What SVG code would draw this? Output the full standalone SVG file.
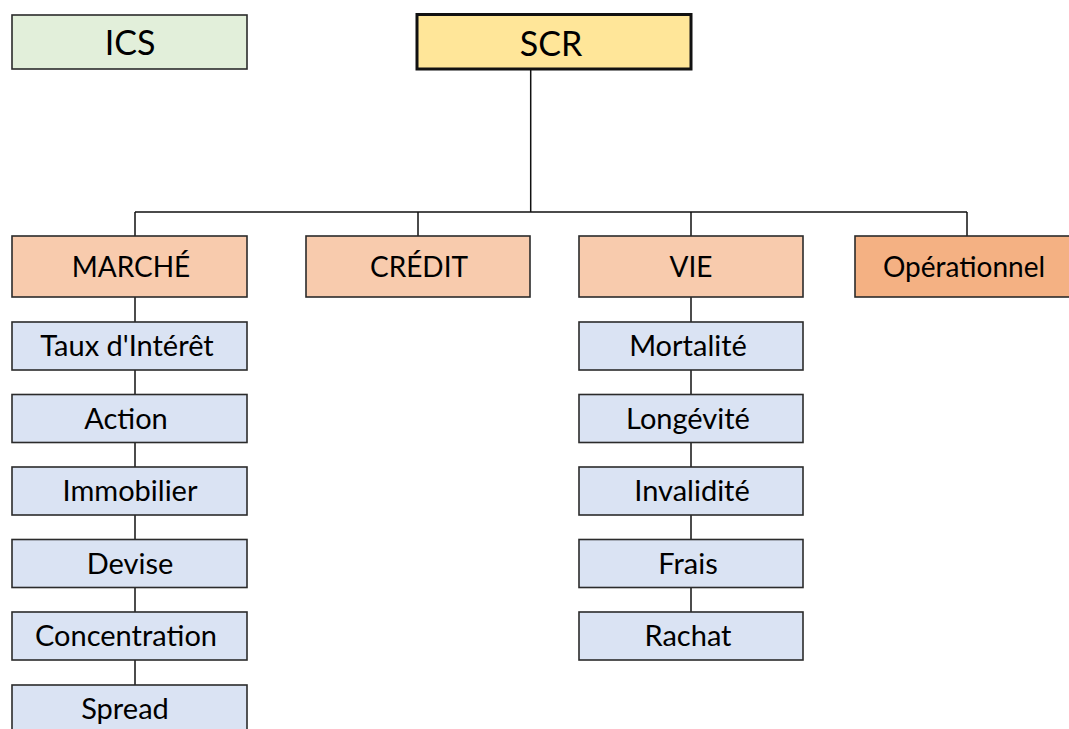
<svg xmlns="http://www.w3.org/2000/svg" width="1069" height="729" viewBox="0 0 1069 729">
  <style>
    .box { stroke: #2b2b2b; stroke-width: 1.6; }
    .root { fill: #ffe699; stroke: #111; stroke-width: 3; }
    .ics { fill: #e2efda; }
    .cat { fill: #f8cbad; }
    .op { fill: #f4b183; }
    .sub { fill: #dae3f3; }
    .wire { stroke: #111; stroke-width: 1.5; fill: none; }
    text { font-family: Lato, "Open Sans", "Liberation Sans", sans-serif; fill: #000; text-anchor: middle; }
    .t1 { font-size: 34px; }
    .t2 { font-size: 28px; }
    .t3 { font-size: 29px; }
  </style>
  <rect width="1069" height="729" fill="#ffffff"/>

  <!-- connectors -->
  <g id="connectors">
    <path class="wire" d="M530.7 69 V212 M135 212 H967 M135 212 V236 M418 212 V236 M691 212 V236 M967 212 V236"/>
    <path class="wire" d="M135 297 V686"/>
    <path class="wire" d="M691 297 V613"/>
  </g>

  <g id="ics">
    <rect class="box ics" x="12" y="15" width="235" height="54"/>
    <text class="t1" x="130" y="55">ICS</text>
  </g>
  <g id="scr">
    <rect class="root" x="417" y="14.5" width="274" height="54.5"/>
    <text class="t1" x="551" y="56">SCR</text>
  </g>

  <g id="marche">
    <rect class="box cat" x="12" y="236" width="235" height="61"/>
    <text class="t2" x="131" y="277">MARCHÉ</text>
  </g>
  <g id="credit">
    <rect class="box cat" x="306" y="236" width="224" height="61"/>
    <text class="t2" x="419" y="277">CRÉDIT</text>
  </g>
  <g id="vie">
    <rect class="box cat" x="579" y="236" width="224" height="61"/>
    <text class="t2" x="691" y="277">VIE</text>
  </g>
  <g id="operationnel">
    <rect class="box op" x="855" y="236" width="220" height="61"/>
    <text class="t2" x="964" y="277">Opérationnel</text>
  </g>

  <!-- MARCHÉ sub-modules -->
  <g id="taux">
    <rect class="box sub" x="12" y="322" width="235" height="48"/>
    <text class="t3" x="127" y="356">Taux d'Intérêt</text>
  </g>
  <g id="action">
    <rect class="box sub" x="12" y="394.5" width="235" height="48"/>
    <text class="t3" x="126" y="428.5">Action</text>
  </g>
  <g id="immobilier">
    <rect class="box sub" x="12" y="467" width="235" height="48"/>
    <text class="t3" x="130" y="501">Immobilier</text>
  </g>
  <g id="devise">
    <rect class="box sub" x="12" y="539.5" width="235" height="48"/>
    <text class="t3" x="130" y="573.5">Devise</text>
  </g>
  <g id="concentration">
    <rect class="box sub" x="12" y="612" width="235" height="48"/>
    <text class="t3" x="126" y="646">Concentration</text>
  </g>
  <g id="spread">
    <rect class="box sub" x="12" y="685" width="235" height="48"/>
    <text class="t3" x="125" y="719">Spread</text>
  </g>

  <!-- VIE sub-modules -->
  <g id="mortalite">
    <rect class="box sub" x="579" y="322" width="224" height="48"/>
    <text class="t3" x="688" y="356">Mortalité</text>
  </g>
  <g id="longevite">
    <rect class="box sub" x="579" y="394.5" width="224" height="48"/>
    <text class="t3" x="688" y="428.5">Longévité</text>
  </g>
  <g id="invalidite">
    <rect class="box sub" x="579" y="467" width="224" height="48"/>
    <text class="t3" x="692" y="501">Invalidité</text>
  </g>
  <g id="frais">
    <rect class="box sub" x="579" y="539.5" width="224" height="48"/>
    <text class="t3" x="688" y="573.5">Frais</text>
  </g>
  <g id="rachat">
    <rect class="box sub" x="579" y="612" width="224" height="48"/>
    <text class="t3" x="688" y="646">Rachat</text>
  </g>
</svg>
